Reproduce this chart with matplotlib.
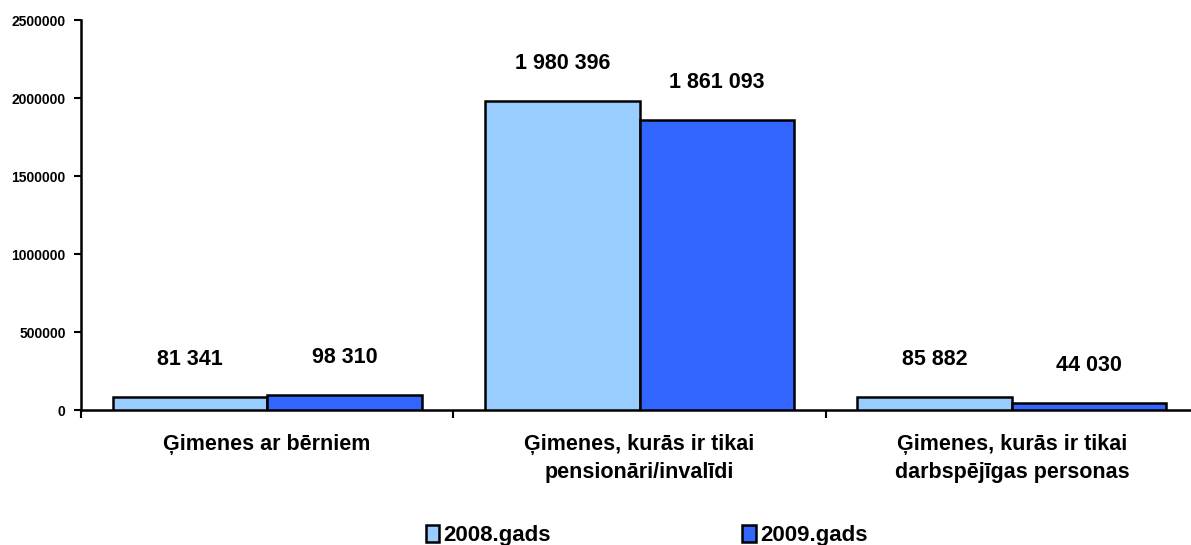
import matplotlib
matplotlib.use('Agg')
import matplotlib.pyplot as plt
import numpy as np

categories = ['Ģimenes ar bērniem',
              'Ģimenes, kurās ir tikai\npensionāri/invalīdi',
              'Ģimenes, kurās ir tikai\ndarbspējīgas personas']
series_names = ['2008.gads', '2009.gads']
values_2008 = [81341, 1980396, 85882]
values_2009 = [98310, 1861093, 44030]
colors = ['#99CCFF', '#3366FF']
yticks = [0, 500000, 1000000, 1500000, 2000000, 2500000]

plt.rcParams['font.family'] = ['Liberation Sans', 'DejaVu Sans']
plt.rcParams['font.weight'] = 'bold'

fig = plt.figure(figsize=(11.91, 5.45), dpi=100)
ax = fig.add_axes([0.068, 0.2477, 0.938, 0.7153])

x = np.arange(len(categories))
w = 0.415
bars = []
for k, (vals, col) in enumerate(zip([values_2008, values_2009], colors)):
    b = ax.bar(x + (k - 0.5) * w, vals, w, color=col, edgecolor='black',
               linewidth=1.8, label=series_names[k], zorder=3)
    bars.append(b)
    for rect, v in zip(b, vals):
        txt = f'{v:,}'.replace(',', ' ')
        ax.annotate(txt, (rect.get_x() + rect.get_width() / 2, v),
                    xytext=(0, 27), textcoords='offset points',
                    ha='center', va='center', fontsize=15.5, fontweight='bold')

ax.set_xlim(-0.5, 2.5)
ax.set_ylim(0, 2500000)
ax.set_yticks(yticks)
ax.set_yticklabels([str(t) for t in yticks], fontsize=10, fontweight='bold')
ax.tick_params(axis='y', direction='out', length=5, width=1.5, pad=6)

ax.set_xticks(x)
ax.set_xticklabels(categories, fontsize=15.5, fontweight='bold', linespacing=1.45)
ax.tick_params(axis='x', which='major', length=0, pad=17)
ax.set_xticks([-0.5, 0.5, 1.5, 2.5], minor=True)
ax.tick_params(axis='x', which='minor', direction='out', length=6, width=1.5)

for s in ['top', 'right']:
    ax.spines[s].set_visible(False)
for s in ['left', 'bottom']:
    ax.spines[s].set_linewidth(1.8)

leg = fig.legend(handles=bars, labels=series_names, loc='lower center',
                 bbox_to_anchor=(0.543, -0.039), ncol=2, frameon=False,
                 fontsize=16, columnspacing=8.6, handlelength=0.6,
                 handleheight=0.85, handletextpad=0.2)
for t in leg.get_texts():
    t.set_fontweight('bold')

fig.savefig('out.png', dpi=100)
